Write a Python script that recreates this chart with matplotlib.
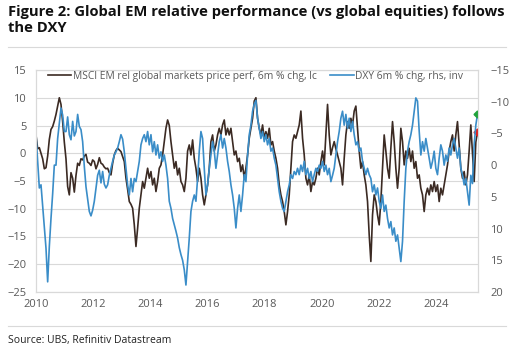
import numpy as np
import matplotlib
matplotlib.use('Agg')
import matplotlib.pyplot as plt
from matplotlib.lines import Line2D

msci_2010 = [3.3, 0.8, 1.0, 0.0, -1.0, -2.8, -2.6, -0.5, 2.5, 4.3, 4.8, 5.8, 7.0, 8.5, 10.0,
             8.8, 5.7, 2.0, -1.0, -6.0, -7.5, -3.5, -4.5, -7.0, -4.0, -1.8, -2.2, -1.0, -1.2,
             -0.5, -0.2, -1.6, -1.8, -2.2, -1.2, -1.5, -2.8, -2.0, -0.8, -1.8, -2.0, -2.5, -2.8]
msci_2012 = [-2.7, -3.5, -3.9, -1.8, -0.3, 0.5, 0.9, 0.6, 0.3, -0.6, -1.5, -4.5, -6.5, -8.7,
             -9.2, -9.9, -12.9, -16.8, -13.5, -9.9, -7.5, -5.1, -6.3, -4.5, -2.7, -4.5, -3.3,
             -5.7, -4.5, -6.9, -5.1, -2.7, -2.1, -0.3, 2.1, 4.5, 6.0, 5.0, 2.1, -0.3, -2.7,
             -1.5, -3.9, -2.7, -5.1]
msci_2015 = [-5.7, -6.9, -4.5, 0.4, 1.5, -0.3, 2.4, -0.9, -2.7, -5.1, -2.7, -4.5, -7.5, -9.3,
             -7.5, -5.7, -2.7, 2.1, 3.3, 0.4, 1.5, 3.3, 4.5, 3.3, 5.1, 6.0, 3.3, 4.5, 3.3, 4.5,
             2.1, -0.3, 0.4, -1.5, -0.9, -3.3, -2.1, -4.5, -2.7, -0.3, 2.7, 4.5, 6.3, 9.4]
msci_2017 = [10.0, 6.3, 4.5, 3.3, 5.1, 2.7, 3.9, 2.7, 4.5, 1.5, 2.1, 0.4, -0.9, -2.7, -5.7,
             -7.5, -8.7, -10.5, -12.9, -10.5, -7.5, -2.7, 2.1, 3.3, 2.7, 3.9, 5.1, 7.6, 2.7,
             -0.3, -4.5, -5.7, -3.9, -6.9, -5.1, -5.7, -4.5, -2.7, -3.9, -1.5, 0.4, -2.1, 3.3,
             8.8, 3.3]
msci_2020 = [-0.3, 1.0, 2.1, 0.8, -0.3, -1.5, -2.7, -5.7, -0.9, 3.3, 5.7, 4.5, 6.3, 5.1, 7.6,
             8.5, 4.5, 0.4, -2.7, -1.5, -3.9, -5.7, -8.7, -14.7, -19.5, -11.1, -7.5, -8.7,
             -11.1, -12.9, -8.7, -2.7, 3.3, 0.4, -2.7, -4.5, 0.9, 5.7, 2.1, -2.7, -6.3, -2.7,
             4.5, 2.1]
msci_2023 = [-2.1, 0.4, -0.9, 0.9, -1.5, 0.4, -2.7, -1.5, -4.5, -3.9, -6.3, -7.5, -10.5, -7.5,
             -6.3, -7.5, -5.7, -6.9, -5.1, -6.9, -5.7, -8.7, -6.3, -7.5, -5.7, -3.9, -2.1, 0.4,
             2.1, 3.3, 0.4, 3.3, 5.7, 1.5, -2.7, -4.5, -3.3, -5.7, -3.9, 0.4, 5.1, 0.0, -5.1,
             2.0, 3.8]

# DXY 6m % chg (rhs, inverted)
dxy_2010 = [-4.8, -0.6, 3.6, 3.1, 6.5, 9.9, 13.1, 18.4, 12.8, 8.4, 4.5, 0.0, 0.0, -4.2, -6.6,
            -9.0, -7.9, -5.3, -5.3, -7.6, -4.8, -4.0, -6.9, -4.6, -5.3, -8.0, -6.1, -5.6, -3.7,
            0.2, 3.4, 5.3, 7.3, 8.0, 7.1, 5.7, 3.6, 1.6, 0.8, 2.8, 1.0, 3.0, 3.6]
dxy_2012 = [3.1, 1.6, 0.5, -0.6, -1.6, -2.1, -2.7, -3.7, -4.8, -4.1, -2.1, 0.5, 3.1, 4.7, 2.1,
            4.2, 2.1, 2.6, 1.0, -0.6, -3.2, -4.2, -4.8, -3.7, -5.3, -3.2, -4.8, -2.1, -3.7,
            -1.6, -3.2, -1.1, -2.1, -0.6, -1.6, 0.0, 2.1, 5.7, 6.8, 8.4, 9.4, 10.4, 11.5,
            13.0, 14.1]
dxy_2015 = [15.0, 16.5, 18.9, 15.2, 11.5, 7.3, 5.7, 4.7, 5.7, 2.1, -2.2, -5.3, -4.2, 0.5, 4.7,
            3.1, 0.5, -1.6, -3.7, -2.2, 0.5, -1.6, -3.7, -4.8, -2.7, -4.2, -2.7, -0.6, 1.0,
            3.1, 4.7, 6.8, 9.9, 6.8, 4.7, 7.3, 4.7, 1.5, 2.6, -1.6, -4.8, -6.3, -8.5, -9.6]
dxy_2017 = [-10.2, -7.4, -5.8, -4.2, -5.3, -3.7, -4.8, -3.2, -4.2, -2.2, -2.7, -1.1, 0.0, 2.1,
            4.2, 5.7, 6.8, 7.3, 5.7, 4.2, 3.1, 1.5, 2.1, 1.0, 1.5, 0.5, 1.5, 0.0, 1.0, -0.6,
            1.5, 0.5, 2.1, 1.0, 2.6, 1.5, 0.5, 1.0, 0.0, 0.5, -0.6, 1.0, 0.0, 1.5, 0.5]
dxy_2020 = [2.6, 1.6, 0.5, -1.6, -3.7, -5.3, -7.4, -8.5, -6.3, -8.0, -5.8, -7.4, -5.3, -6.9,
            -4.8, -3.2, -3.7, -2.2, -2.7, -0.6, 0.5, 1.5, 0.5, 1.5, 2.1, 4.2, 3.1, 4.7, 3.6,
            5.7, 6.8, 4.7, 7.3, 6.3, 8.4, 9.9, 8.9, 11.0, 9.9, 12.0, 11.0, 13.1, 15.2, 12.0]
dxy_2023 = [5.7, 0.5, -2.2, -3.7, -4.8, -6.3, -8.5, -10.6, -10.1, -5.4, -1.6, -3.7, -2.2, -4.2,
            -2.7, -1.1, 0.5, -0.6, -2.2, 0.5, 1.5, -1.1, -3.2, -2.2, 0.0, -1.6, -0.6, -2.7,
            -1.6, -3.2, -4.2, -2.7, -1.1, -2.7, 0.5, 1.5, 3.1, 2.1, 4.2, 6.3, 1.6, 2.9, -3.2,
            -6.3, -8.0]

msci = np.concatenate([msci_2010, msci_2012, msci_2015, msci_2017, msci_2020, msci_2023])
dxy = np.concatenate([dxy_2010, dxy_2012, dxy_2015, dxy_2017, dxy_2020, dxy_2023])
# sample dates, decimal years (~21 day spacing)
dates = 2010 + np.arange(len(msci)) / 17.15

year_ticks = [2010, 2012, 2014, 2016, 2018, 2020, 2022, 2024]
lhs_ticks = [-25, -20, -15, -10, -5, 0, 5, 10, 15]
rhs_ticks = [-15, -10, -5, 0, 5, 10, 15, 20]

brown = '#3b2a23'
blue = '#3a8dc8'
grey_txt = '#595959'
grid_col = '#d9d9d9'

plt.rcParams['font.family'] = ['Open Sans', 'DejaVu Sans']

fig = plt.figure(figsize=(5.16, 3.56), dpi=100)
ax = fig.add_axes([36 / 516, 1 - 292 / 356, 442 / 516, 222 / 356])
ax2 = ax.twinx()

ax.plot(dates, msci, color=brown, lw=1.2, label='MSCI EM rel global markets price perf, 6m % chg, lc')
ax2.plot(dates, dxy, color=blue, lw=1.2, label='DXY 6m % chg, rhs, inv')
# latest-value markers
ax2.plot(dates[-1], dxy[-1], marker='D', ms=3.5, color='#1fa23a', ls='none')
ax.plot(dates[-1], msci[-1], marker='D', ms=3.5, color='#e0201c', ls='none', zorder=5)

ax.set_xlim(2010, 2025.47)
ax.set_ylim(-25, 15)
ax2.set_ylim(20, -15)
ax.set_xticks(year_ticks)
ax.set_xticklabels([str(y) for y in year_ticks])
ax.set_yticks(lhs_ticks)
ax2.set_yticks(rhs_ticks)

ax.grid(axis='y', color=grid_col, lw=0.8)
ax.set_axisbelow(True)
for a in (ax, ax2):
    for s in a.spines.values():
        s.set_color(grid_col)
        s.set_linewidth(0.8)
    a.tick_params(length=0, labelsize=8, colors=grey_txt)
ax.tick_params(axis='y', pad=7)
ax2.tick_params(axis='y', pad=9)
ax.tick_params(axis='x', pad=5)

h1, l1 = ax.get_legend_handles_labels()
h2, l2 = ax2.get_legend_handles_labels()
ax2.legend(h1 + h2, l1 + l2, ncol=2, loc='upper left', bbox_to_anchor=(0.024, 1.0),
           frameon=False, fontsize=7.4, labelcolor=grey_txt, borderaxespad=0, borderpad=0.1,
           handlelength=2.3, handletextpad=0.15, columnspacing=1.3)

fig.text(8 / 516, 1 - 5 / 356, 'Figure 2: Global EM relative performance (vs global equities) follows\nthe DXY',
         ha='left', va='top', fontsize=10.6, fontweight='bold', color='#111111', linespacing=1.2)
fig.add_artist(Line2D([8 / 516, 506 / 516], [1 - 47 / 356] * 2, color=grid_col, lw=0.8))
fig.add_artist(Line2D([8 / 516, 506 / 516], [1 - 326 / 356] * 2, color=grid_col, lw=0.8))
fig.text(8 / 516, 1 - 340 / 356, 'Source: UBS, Refinitiv Datastream', ha='left', va='center',
         fontsize=7.5, color='#222222')

fig.savefig('out.png', dpi=100)
